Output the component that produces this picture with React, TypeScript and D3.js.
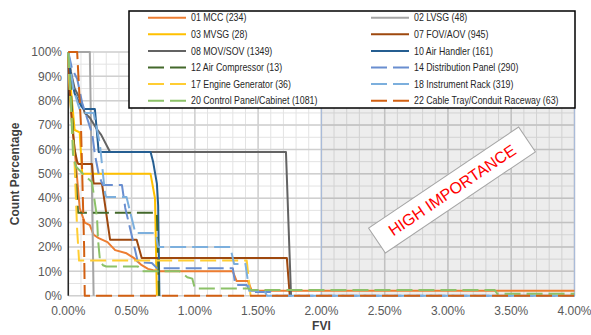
import React from 'react';
import * as d3 from 'd3';

// step curves, [FVI %, count %]
const mcc = [[0, 100], [0.01, 88], [0.03, 72], [0.05, 60], [0.07, 48], [0.09, 36], [0.13, 30], [0.17, 29], [0.2, 25], [0.24, 23.6], [0.31, 22], [0.37, 18.7], [0.46, 17.4], [0.52, 15.4], [0.58, 12.5], [0.63, 11], [0.67, 10.5], [0.72, 10], [1.3, 10], [1.33, 6], [1.42, 6], [1.45, 2], [4, 2]];
const lvsg = [[0, 100], [0.17, 100], [0.2, 0]];
const mvsg = [[0, 100], [0.02, 85], [0.05, 68], [0.09, 67], [0.11, 50], [0.65, 50], [0.685, 40], [0.7, 0]];
const fovAov = [[0, 100], [0.01, 85], [0.03, 70], [0.05, 60], [0.07, 55], [0.08, 54], [0.187, 54], [0.2, 46], [0.266, 46], [0.33, 23], [0.54, 23], [0.58, 15.5], [1.727, 15.5], [1.75, 0]];
const movSov = [[0, 100], [0.02, 92], [0.05, 85], [0.1, 80], [0.13, 75], [0.17, 73], [0.23, 68], [0.26, 66], [0.33, 59], [1.72, 59], [1.76, 0]];
const airHandler = [[0, 100], [0.02, 90], [0.05, 83], [0.1, 78], [0.12, 76.6], [0.21, 76.6], [0.24, 59], [0.65, 59], [0.67, 55], [0.7, 46], [0.71, 37], [0.72, 0]];
const airCompressor = [[0, 100], [0.02, 85], [0.04, 65], [0.06, 48], [0.077, 34], [0.7, 34], [0.717, 0]];
const distPanel = [[0, 100], [0.03, 93], [0.07, 89], [0.11, 79], [0.16, 71], [0.19, 66], [0.21, 58], [0.24, 50], [0.26, 47], [0.274, 45.4], [0.424, 45.4], [0.45, 36], [0.5, 25], [0.55, 13.7], [0.66, 13.4], [0.7, 11.3], [1.3, 11.3], [1.32, 4.4], [1.41, 4.4], [1.44, 1.5], [1.6, 1.5], [1.63, 0], [4, 0]];
const engineGen = [[0, 100], [0.01, 85], [0.03, 70], [0.05, 54], [0.06, 40], [0.07, 27], [0.085, 14.4], [1.41, 14.4], [1.44, 0]];
const instRack = [[0, 100], [0.02, 92], [0.04, 85], [0.08, 78], [0.1, 75], [0.2, 75], [0.22, 70], [0.25, 62], [0.27, 52], [0.29, 42], [0.3, 40.5], [0.46, 40.5], [0.53, 25.7], [0.69, 25.7], [0.71, 20], [1.28, 20], [1.31, 13], [1.4, 13], [1.43, 2], [1.55, 2], [1.57, 0], [4, 0]];
const ctrlPanel = [[0, 100], [0.01, 90], [0.02, 80], [0.037, 58], [0.06, 53], [0.116, 50], [0.187, 46.6], [0.227, 32], [0.235, 23], [0.25, 14.6], [0.274, 12.5], [0.3, 12], [0.55, 12], [0.58, 10], [0.88, 10], [0.9, 9.2], [0.94, 7.6], [0.98, 7], [1.0, 3], [1.42, 3], [1.45, 2.3], [3.37, 2.3], [3.39, 0.8], [4, 0.8]];
const cableTray = [[0, 100], [0.07, 100], [0.1, 70], [0.125, 20], [0.13, 0], [4, 0]];

const names = ['01 MCC (234)', '02 LVSG (48)', '03 MVSG (28)', '07 FOV/AOV (945)', '08 MOV/SOV (1349)', '10 Air Handler (161)',
  '12 Air Compressor (13)', '14 Distribution Panel (290)', '17 Engine Generator (36)', '18 Instrument Rack (319)',
  '20 Control Panel/Cabinet (1081)', '22 Cable Tray/Conduit Raceway (63)'];
const curves = [mcc, lvsg, mvsg, fovAov, movSov, airHandler, airCompressor, distPanel, engineGen, instRack, ctrlPanel, cableTray];
const colors = ['#ed7d31', '#a5a5a5', '#ffc000', '#9e480e', '#636363', '#255e91', '#43682b', '#698ed0', '#ffcd33', '#7cafdd', '#8cc168', '#d26012'];
const dashed = [false, false, false, false, false, false, true, true, true, true, true, true];

const xTicks = [0, 0.5, 1, 1.5, 2, 2.5, 3, 3.5, 4];
const yTicks = [0, 10, 20, 30, 40, 50, 60, 70, 80, 90, 100];

export default function App() {
  const x = d3.scaleLinear().domain([0, 4]).range([68.3, 574.5]);
  const y = d3.scaleLinear().domain([0, 100]).range([295.7, 52]);

  const line = d3.line<number[]>()
    .x((d) => x(d[0]))
    .y((d) => y(d[1]));

  const minorX = d3.range(0, 4.001, 0.1);
  const minorY = d3.range(0, 100.1, 5);

  const font = 'Liberation Sans, Arial, sans-serif';

  return (
    <svg width={591} height={335} style={{ position: 'absolute', left: 0, top: 0, background: '#fff' }}>
      {/* grid */}
      {minorY.map((v) => (
        <line key={'my' + v} x1={x(0)} x2={x(4)} y1={y(v)} y2={y(v)} stroke="#e3e3e3" strokeWidth={1} />
      ))}
      {minorX.map((v) => (
        <line key={'mx' + v} x1={x(v)} x2={x(v)} y1={y(0)} y2={y(100)} stroke="#e3e3e3" strokeWidth={1} />
      ))}
      {yTicks.map((v) => (
        <line key={'gy' + v} x1={x(0)} x2={x(4)} y1={y(v)} y2={y(v)} stroke="#d0d0d0" strokeWidth={1.5} />
      ))}
      {xTicks.map((v) => (
        <line key={'gx' + v} x1={x(v)} x2={x(v)} y1={y(0)} y2={y(100)} stroke="#d0d0d0" strokeWidth={1.5} />
      ))}

      {/* high importance zone */}
      <rect x={x(2)} y={y(100)} width={x(4) - x(2)} height={y(0) - y(100)}
        fill="#000" fillOpacity={0.07} stroke="#a9bbd9" strokeWidth={1.2} />

      {/* axis line */}
      <line x1={x(0)} x2={x(0)} y1={y(0)} y2={y(100)} stroke="#262626" strokeWidth={1.5} />

      {/* series */}
      {curves.map((c, i) => (
        <path key={names[i]} d={line(c) || ''} fill="none" stroke={colors[i]} strokeWidth={2}
          strokeDasharray={dashed[i] ? '16,6' : undefined} strokeLinejoin="round" />
      ))}

      {/* tick labels */}
      {yTicks.map((v) => (
        <text key={'ty' + v} x={62} y={y(v)} dy="0.35em" textAnchor="end" fontFamily={font} fontSize={12} fill="#595959">
          {v + '%'}
        </text>
      ))}
      {xTicks.map((v) => (
        <text key={'tx' + v} x={x(v)} y={315} textAnchor="middle" fontFamily={font} fontSize={12} fill="#595959">
          {v.toFixed(2) + '%'}
        </text>
      ))}

      {/* axis titles */}
      <text transform={`translate(19,${(y(0) + y(100)) / 2}) rotate(-90)`} textAnchor="middle" fontFamily={font}
        fontSize={12} fontWeight="bold" fill="#404040">Count Percentage</text>
      <text x={(x(0) + x(4)) / 2} y={330} textAnchor="middle" fontFamily={font} fontSize={12} fontWeight="bold" fill="#404040">FVI</text>

      {/* callout */}
      <g transform="translate(452,190) rotate(-34)">
        <rect x={-90.5} y={-15} width={181} height={30} fill="#fff" stroke="#a6a6a6" strokeWidth={1} />
        <text x={0} y={0} dy="0.36em" textAnchor="middle" fontFamily={font} fontSize={16} fill="#ff0000">HIGH IMPORTANCE</text>
      </g>

      {/* legend */}
      <rect x={129} y={11} width={446} height={97} fill="#fff" stroke="#000" strokeWidth={1.5} />
      {names.map((n, i) => {
        const col = i % 2;
        const row = Math.floor(i / 2);
        const lx = col === 0 ? 148 : 371;
        const ly = 17.7 + row * 16.6;
        return (
          <g key={'lg' + n}>
            <line x1={lx} x2={lx + 38} y1={ly} y2={ly} stroke={colors[i]} strokeWidth={2}
              strokeDasharray={dashed[i] ? '16,6' : undefined} />
            <text transform={`translate(${lx + 43},${ly}) scale(0.84,1)`} dy="0.35em" fontFamily={font}
              fontSize={10.5} fill="#262626">{n}</text>
          </g>
        );
      })}
    </svg>
  );
}
